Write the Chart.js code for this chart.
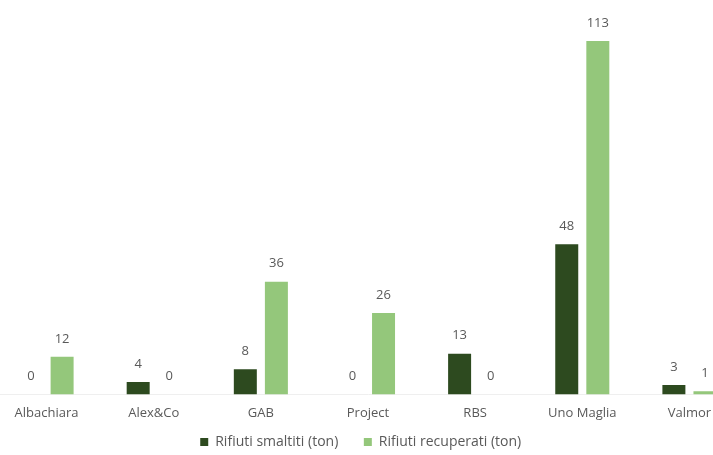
<!DOCTYPE html>
<html>
<head>
<meta charset="utf-8">
<script src="https://cdn.jsdelivr.net/npm/chart.js@4"></script>
<style>
  body { margin: 0; background: #fff; overflow: hidden; width: 713px; height: 455px; position: relative; }
  #wrap { position: absolute; left: -7px; top: 0; width: 750px; height: 455px; }
</style>
</head>
<body>
<div id="wrap"><canvas id="wasteChart" width="750" height="455"></canvas></div>
<script>
// Aziende e quantità (tonnellate)
const companies = ['Albachiara', 'Alex&Co', 'GAB', 'Project', 'RBS', 'Uno Maglia', 'Valmor'];
const disposed = [0, 4, 8, 0, 13, 48, 3];
const recovered = [12, 0, 36, 26, 0, 113, 1];

const darkGreen = '#2d4a1f';
const lightGreen = '#94c77b';
const textGray = '#595959';

// Small plugin to write the value above each bar
const valueLabels = {
    id: 'valueLabels',
    afterDatasetsDraw(chart) {
        const ctx = chart.ctx;
        ctx.save();
        ctx.font = '13px "Open Sans", sans-serif';
        ctx.fillStyle = textGray;
        ctx.textAlign = 'center';
        ctx.textBaseline = 'middle';
        chart.data.datasets.forEach((ds, i) => {
            chart.getDatasetMeta(i).data.forEach((bar, j) => {
                ctx.fillText(ds.data[j], bar.x, bar.y - 18);
            });
        });
        ctx.restore();
    }
};

// extra trailing space so the legend items sit further apart
const legendGaps = [4, 4];

const ctx = document.getElementById('wasteChart').getContext('2d');
new Chart(ctx, {
    type: 'bar',
    data: {
        labels: companies,
        datasets: [{
            label: 'Rifiuti smaltiti (ton)',
            data: disposed,
            backgroundColor: darkGreen,
            barPercentage: 0.74,
            categoryPercentage: 0.58
        }, {
            label: 'Rifiuti recuperati (ton)',
            data: recovered,
            backgroundColor: lightGreen,
            barPercentage: 0.74,
            categoryPercentage: 0.58
        }]
    },
    options: {
        responsive: false,
        animation: false,
        layout: { padding: { top: 19, left: 0, right: 0, bottom: -4 } },
        scales: {
            x: {
                grid: { display: false },
                border: { color: '#efefef' },
                ticks: {
                    color: textGray,
                    font: { family: '"Open Sans", sans-serif', size: 13 },
                    padding: 3
                }
            },
            y: {
                display: false,
                min: 0,
                max: 120
            }
        },
        plugins: {
            legend: {
                position: 'bottom',
                labels: {
                    color: textGray,
                    boxWidth: 8,
                    boxHeight: 8,
                    padding: 11,
                    font: { family: '"Open Sans", sans-serif', size: 14 },
                    generateLabels(chart) {
                        const items = Chart.defaults.plugins.legend.labels.generateLabels(chart);
                        items.forEach((item, i) => {
                            item.text += '\u00a0'.repeat(legendGaps[i]);
                        });
                        return items;
                    }
                }
            },
            tooltip: { enabled: false }
        }
    },
    plugins: [valueLabels]
});
</script>
</body>
</html>
